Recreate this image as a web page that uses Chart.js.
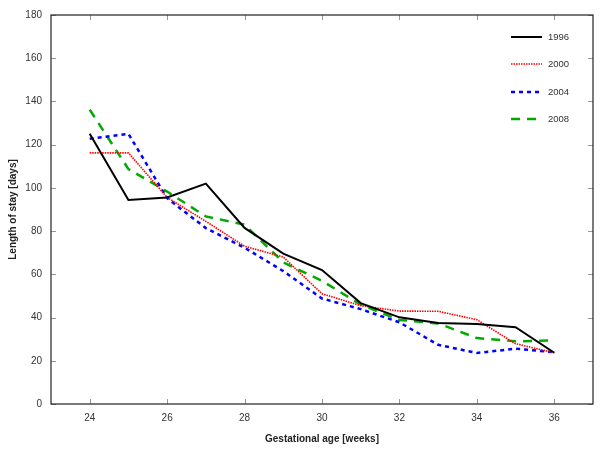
<!DOCTYPE html>
<html>
<head>
<meta charset="utf-8">
<script src="https://cdn.jsdelivr.net/npm/chart.js@4.4.1/dist/chart.umd.min.js"></script>
<style>
  html, body { margin: 0; padding: 0; background: #fff; }
  #wrap { width: 600px; height: 450px; }
</style>
</head>
<body>
<div id="wrap"><canvas id="losChart" width="600" height="450"></canvas></div>
<script>
// ===== Data =====
const weeks = [24, 25, 26, 27, 28, 29, 30, 31, 32, 33, 34, 35, 36];
const los1996 = [125, 94.4, 95.6, 102, 81.5, 69.6, 62, 46.7, 40.1, 37.5, 37, 35.5, 23.7];
const los2000 = [116.2, 116.2, 95.6, 84.5, 73, 68, 51, 45.5, 43, 42.9, 39, 27.9, 23.7];
const los2004 = [122.7, 125, 95.2, 81.4, 72.3, 61.5, 48.8, 43.9, 37.8, 27.4, 23.6, 25.6, 23.9];
const los2008 = [136.2, 108.7, 98.3, 86.8, 83, 65.5, 57, 46, 38.9, 37.3, 30.5, 29, 29.4];
const xTicks = [24, 26, 28, 30, 32, 34, 36];
const yTicks = [0, 20, 40, 60, 80, 100, 120, 140, 160, 180];

const toPoints = vals => weeks.map((w, i) => ({ x: w, y: vals[i] }));

const FONT = "'Liberation Sans', Arial, sans-serif";
Chart.defaults.font.family = FONT;

// box frame, inward tick marks and legend drawn inside the plot
const frameAndLegend = {
  id: "frameAndLegend",
  afterDatasetsDraw(chart) {
    const { ctx, chartArea: a, scales } = chart;
    ctx.save();
    // tick marks
    ctx.strokeStyle = "#999";
    ctx.lineWidth = 1;
    xTicks.forEach(t => {
      const px = Math.round(scales.x.getPixelForValue(t)) + 0.5;
      ctx.beginPath();
      ctx.moveTo(px, a.bottom); ctx.lineTo(px, a.bottom - 5);
      ctx.moveTo(px, a.top); ctx.lineTo(px, a.top + 5);
      ctx.stroke();
    });
    yTicks.forEach(t => {
      const py = Math.round(scales.y.getPixelForValue(t)) + 0.5;
      ctx.beginPath();
      ctx.moveTo(a.left, py); ctx.lineTo(a.left + 5, py);
      ctx.moveTo(a.right, py); ctx.lineTo(a.right - 5, py);
      ctx.stroke();
    });
    // frame
    ctx.strokeStyle = "#222";
    ctx.lineWidth = 1.2;
    ctx.strokeRect(a.left, a.top, a.right - a.left, a.bottom - a.top);

    // legend
    const x0 = 511, x1 = 542;
    const ys = [37, 64, 92, 119];
    ctx.font = "9.5px " + FONT;
    ctx.textBaseline = "middle";
    ctx.fillStyle = "#333";
    chart.data.datasets.forEach((ds, i) => {
      ctx.strokeStyle = ds.borderColor;
      ctx.lineWidth = ds.borderWidth;
      ctx.setLineDash(ds.borderDash || []);
      ctx.beginPath();
      ctx.moveTo(x0, ys[i]); ctx.lineTo(x1, ys[i]);
      ctx.stroke();
      ctx.setLineDash([]);
      ctx.fillText(ds.label, 548, ys[i]);
    });
    ctx.restore();
  }
};

// ===== Chart =====
const ctx1 = document.getElementById("losChart");
new Chart(ctx1, {
  type: "line",
  data: {
    datasets: [
      { label: "1996", data: toPoints(los1996), borderColor: "#000000", borderWidth: 2, borderDash: [] },
      { label: "2000", data: toPoints(los2000), borderColor: "#ff0000", borderWidth: 1.6, borderDash: [1.5, 1] },
      { label: "2004", data: toPoints(los2004), borderColor: "#0000ff", borderWidth: 2.5, borderDash: [4, 4] },
      { label: "2008", data: toPoints(los2008), borderColor: "#00aa00", borderWidth: 2.5, borderDash: [9, 7] },
    ],
  },
  options: {
    responsive: false,
    animation: false,
    elements: { point: { radius: 0 }, line: { tension: 0, fill: false } },
    layout: { padding: { top: 12, right: 7, left: 0, bottom: 0 } },
    plugins: { legend: { display: false }, tooltip: { enabled: false } },
    scales: {
      x: {
        type: "linear",
        min: 23,
        max: 37,
        afterBuildTicks: s => { s.ticks = xTicks.map(v => ({ value: v })); },
        afterFit: s => { s.height = 46; },
        grid: { display: false, drawTicks: false },
        border: { display: false },
        ticks: { color: "#333", font: { size: 10 }, padding: 8 },
        title: {
          display: true,
          text: "Gestational age [weeks]",
          color: "#222",
          font: { size: 10, weight: "bold" },
          padding: { top: 0, bottom: 5 },
        },
      },
      y: {
        min: 0,
        max: 180,
        afterBuildTicks: s => { s.ticks = yTicks.map(v => ({ value: v })); },
        afterFit: s => { s.width = 51; },
        grid: { display: false, drawTicks: false },
        border: { display: false },
        ticks: { color: "#333", font: { size: 10 }, padding: 9 },
        title: {
          display: true,
          text: "Length of stay [days]",
          color: "#222",
          font: { size: 10, weight: "bold" },
          padding: { top: 7, bottom: 0 },
        },
      },
    },
  },
  plugins: [frameAndLegend],
});
</script>
</body>
</html>
